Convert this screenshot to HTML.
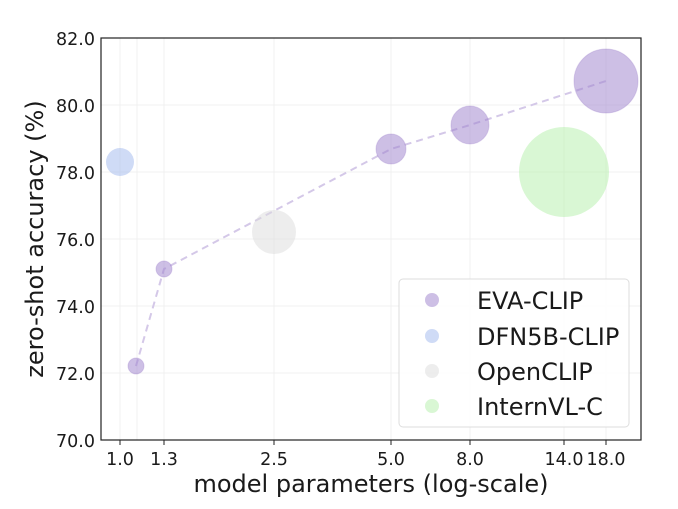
<!DOCTYPE html>
<html><head><style>body{margin:0;background:#fff}svg{display:block}text{font-family:"DejaVu Sans","Liberation Sans",sans-serif;fill:#1a1a1a}</style></head>
<body>
<svg width="678" height="509" xmlns="http://www.w3.org/2000/svg">
<g stroke="#f0f0f0" stroke-width="1">
<line x1="120" y1="38" x2="120" y2="440"/><line x1="137" y1="38" x2="137" y2="440"/><line x1="164" y1="38" x2="164" y2="440"/><line x1="274" y1="38" x2="274" y2="440"/><line x1="391" y1="38" x2="391" y2="440"/><line x1="470" y1="38" x2="470" y2="440"/><line x1="564" y1="38" x2="564" y2="440"/><line x1="606" y1="38" x2="606" y2="440"/>
<line x1="101" y1="105" x2="641" y2="105"/><line x1="101" y1="172" x2="641" y2="172"/><line x1="101" y1="239" x2="641" y2="239"/><line x1="101" y1="306" x2="641" y2="306"/><line x1="101" y1="373" x2="641" y2="373"/>
</g>
<polyline points="136,366 164,269 391,149 470,125 606,81" fill="none" stroke="#d4c8e8" stroke-width="2" stroke-dasharray="7,5"/>
<g fill-opacity="0.5">
<circle cx="564" cy="172" r="45" fill="#b3efaa"/>
<circle cx="274" cy="232" r="22" fill="#dcdcdc"/>
<circle cx="120" cy="162" r="14" fill="#9fb8ee"/>
<g fill="#9b7fcb" stroke="#9b7fcb" stroke-opacity="0.3">
<circle cx="136" cy="366" r="8"/><circle cx="164" cy="269" r="8"/><circle cx="391" cy="149" r="15"/><circle cx="470" cy="125" r="19"/><circle cx="606" cy="81" r="32"/>
</g></g>
<rect x="101" y="38" width="540" height="402" fill="none" stroke="#222" stroke-width="1.2"/>
<g stroke="#222"><line x1="120" y1="440" x2="120" y2="445"/><line x1="164" y1="440" x2="164" y2="445"/><line x1="274" y1="440" x2="274" y2="445"/><line x1="391" y1="440" x2="391" y2="445"/><line x1="470" y1="440" x2="470" y2="445"/><line x1="564" y1="440" x2="564" y2="445"/><line x1="606" y1="440" x2="606" y2="445"/></g>
<g font-size="17.5" text-anchor="end">
<text x="95" y="45">82.0</text><text x="95" y="112">80.0</text><text x="95" y="179">78.0</text><text x="95" y="246">76.0</text><text x="95" y="313">74.0</text><text x="95" y="380">72.0</text><text x="95" y="447">70.0</text></g>
<g font-size="17.5" text-anchor="middle">
<text x="120" y="465">1.0</text><text x="164" y="465">1.3</text><text x="274" y="465">2.5</text><text x="391" y="465">5.0</text><text x="470" y="465">8.0</text><text x="564" y="465">14.0</text><text x="606" y="465">18.0</text></g>
<text x="371" y="492" font-size="24" text-anchor="middle">model parameters (log-scale)</text>
<text transform="translate(43,239) rotate(-90)" font-size="24" text-anchor="middle">zero-shot accuracy (%)</text>
<rect x="399" y="279" width="230" height="148" rx="4" fill="#fff" fill-opacity="0.85" stroke="#ddd"/>
<g fill-opacity="0.5"><circle cx="432" cy="300" r="7" fill="#9b7fcb"/><circle cx="432" cy="336" r="7" fill="#9fb8ee"/><circle cx="432" cy="371" r="7" fill="#dcdcdc"/><circle cx="432" cy="406" r="7" fill="#b3efaa"/></g>
<g font-size="24"><text x="477" y="309">EVA-CLIP</text><text x="477" y="345">DFN5B-CLIP</text><text x="477" y="380">OpenCLIP</text><text x="477" y="415">InternVL-C</text></g>
</svg>
</body></html>
